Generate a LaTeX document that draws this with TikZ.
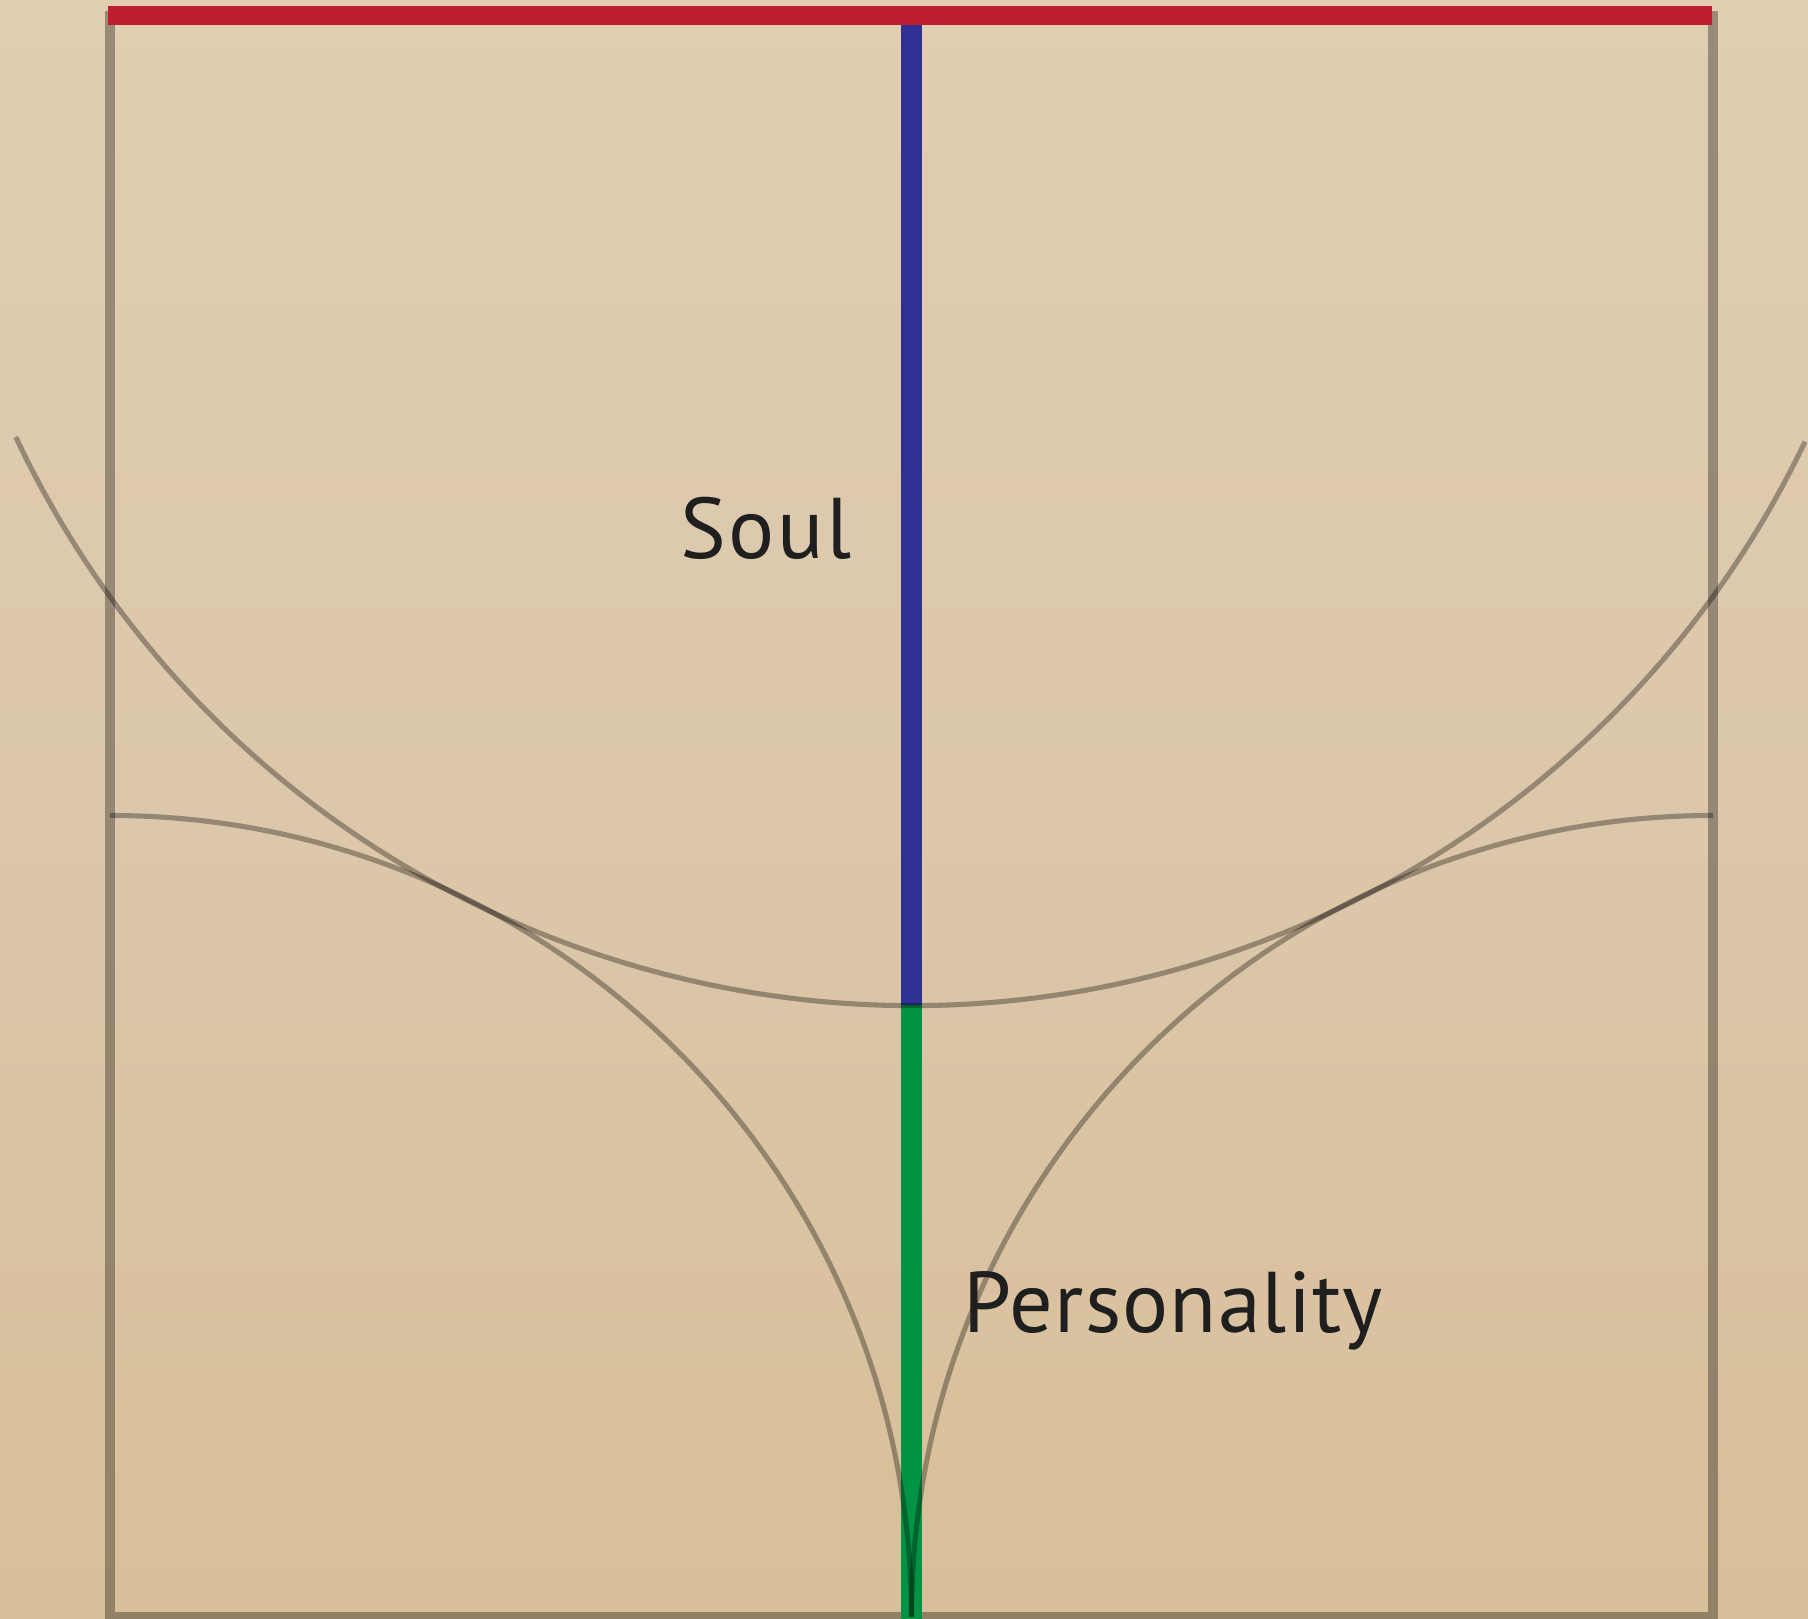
\documentclass[tikz,border=0pt]{standalone}
\usepackage{fontspec}
\setmainfont{PT Sans}
\definecolor{paperTop}{HTML}{E0CDB2}
\definecolor{paperMid}{HTML}{DCC7AA}
\definecolor{paperBot}{HTML}{D8BF99}
\definecolor{barRed}{HTML}{BE1E2D}
\definecolor{barBlue}{HTML}{2E3192}
\definecolor{barGreen}{HTML}{009444}
\tikzset{
  frameline/.style={draw=black, draw opacity=0.32, line width=2.6pt},
  arcline/.style={draw=black, draw opacity=0.32, line width=1.45pt},
  redbar/.style={draw=barRed, line width=5.4pt},
  bluebar/.style={draw=barBlue, line width=5.7pt},
  greenbar/.style={draw=barGreen, line width=5.7pt},
  label/.style={font=\fontsize{24.5}{29}\selectfont\addfontfeatures{LetterSpace=3}, text=black!88, inner sep=0pt},
  labelwide/.style={font=\fontsize{24.5}{29}\selectfont\addfontfeatures{LetterSpace=1.3}, text=black!88, inner sep=0pt}
}
\begin{document}
\begin{tikzpicture}[x=0.01cm, y=0.01cm]
  \useasboundingbox (0,0) rectangle (1808,1619);
  \shade[top color=paperTop, bottom color=paperBot, middle color=paperMid] (0,0) rectangle (1808,1619);
  \clip (0,0) rectangle (1808,1619);
  % key points
  \coordinate (TL) at (110,1603.5);
  \coordinate (TR) at (1713,1603.5);
  \coordinate (BL) at (110,2);
  \coordinate (BR) at (1713,2);
  \coordinate (M) at (911.5,1603.5);
  \coordinate (P) at (911.5,613.5);
  \coordinate (B) at (911.5,-20);
  \coordinate (RL) at (108,1603.5);
  \coordinate (RR) at (1712,1603.5);
  % frame
  \draw[frameline] (TL) -- (BL) -- (BR) -- (TR) -- cycle;
  % bars
  \draw[bluebar] (M) -- (P);
  \draw[greenbar] (P) -- (B);
  \draw[redbar] (RL) -- (RR);
  % arcs
  \draw[arcline] (M) ++(205.2:990) arc[start angle=205.2, end angle=334.5, radius=990];
  \draw[arcline] (BL) ++(90:801.5) arc[start angle=90, end angle=0, radius=801.5];
  \draw[arcline] (BR) ++(90:801.5) arc[start angle=90, end angle=180, radius=801.5];
  % labels
  \node[label, anchor=base east] (soul) at (852,1060) {Soul};
  \node[labelwide, anchor=base west] (pers) at (963,286) {Personality};
\end{tikzpicture}
\end{document}
